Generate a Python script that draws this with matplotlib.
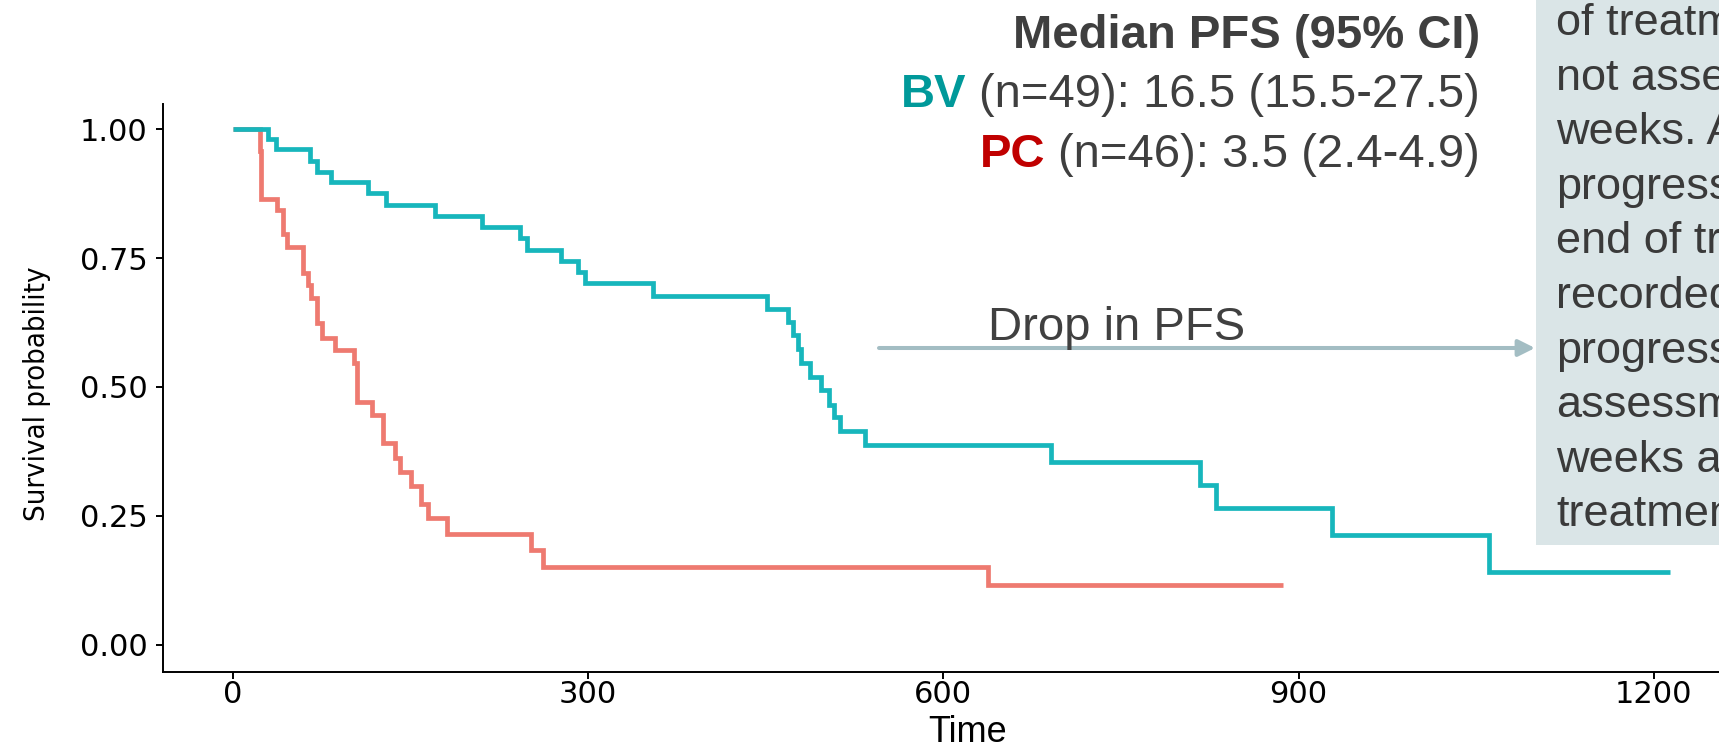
import matplotlib
matplotlib.use("Agg")
import matplotlib.pyplot as plt
from matplotlib import font_manager
from matplotlib.patches import Rectangle, FancyArrowPatch

# Kaplan-Meier steps (days, survival after each event)
bv_time = [0, 30, 36, 65, 71, 83, 114, 129, 171, 210, 242, 248, 277, 291, 297,
           355, 451, 469, 473, 477, 480, 487, 497, 503, 508, 513, 534,
           691, 817, 830, 928, 1061, 1214]
bv_surv = [1.0, 0.982, 0.961, 0.938, 0.917, 0.897, 0.876, 0.853, 0.832, 0.811, 0.789,
           0.766, 0.745, 0.723, 0.701, 0.677, 0.651, 0.627, 0.600, 0.574, 0.546,
           0.520, 0.494, 0.466, 0.442, 0.415, 0.387, 0.355, 0.310, 0.266, 0.213,
           0.141, 0.141]

pc_time = [0, 23, 24, 37, 42, 46, 59, 63, 66, 71, 75, 86, 102, 105, 117, 127,
           137, 141, 150, 159, 165, 181, 252, 262, 638, 887]
pc_surv = [1.0, 0.957, 0.864, 0.844, 0.797, 0.772, 0.721, 0.698, 0.672, 0.624,
           0.595, 0.572, 0.546, 0.470, 0.446, 0.391, 0.362, 0.336, 0.307, 0.272,
           0.245, 0.214, 0.184, 0.151, 0.115, 0.115]

x_ticks = [0, 300, 600, 900, 1200]
y_ticks = [0.0, 0.25, 0.5, 0.75, 1.0]

header = "Median PFS (95% CI)"
groups = ["BV", "PC"]
group_stats = ["(n=49): 16.5 (15.5-27.5)", "(n=46): 3.5 (2.4-4.9)"]
group_colors = ["#00999A", "#C00000"]

note_lines = ["of treatm", "not asse", "weeks. A", "progress", "end of tr",
              "recorded", "progress", "assessm", "weeks a", "treatmen"]

W, H = 1719, 748
fig = plt.figure(figsize=(W / 100, H / 100), dpi=100)


def fx(px):
    return px / W


def fy(py):
    return 1 - py / H


# a condensed face for the y title if one is around
fonts = font_manager.fontManager.ttflist
names = {f.name for f in fonts}
if "Liberation Sans Narrow" in names:
    ylab_font = dict(family="Liberation Sans Narrow", fontsize=24)
elif any(f.name == "DejaVu Sans" and f.stretch == "condensed" for f in fonts):
    ylab_font = dict(family="DejaVu Sans", fontstretch="condensed", fontsize=21)
else:
    ylab_font = dict(family="Liberation Sans", fontsize=21)

# note box on the right, behind everything
fig.add_artist(Rectangle((fx(1536), fy(545)), fx(200), 545 / H,
                         transform=fig.transFigure, facecolor="#DAE5E7",
                         edgecolor="none", zorder=0))

# panel runs off the right edge of the figure
ax = fig.add_axes([fx(163), fy(672), 1609.2 / W, (672 - 103.5) / H])
ax.set_facecolor("none")
ax.step(pc_time, pc_surv, where="post", color="#EE7A70", lw=3.4,
        solid_capstyle="butt", solid_joinstyle="miter")
ax.step(bv_time, bv_surv, where="post", color="#17B6BC", lw=3.4,
        solid_capstyle="butt", solid_joinstyle="miter")

ax.set_xlim(-59.1, 1300)
ax.set_ylim(-0.053, 1.05)
ax.set_xticks(x_ticks)
ax.set_yticks(y_ticks)
ax.set_yticklabels([f"{v:.2f}" for v in y_ticks])
for side in ["top", "right"]:
    ax.spines[side].set_visible(False)
for side in ["left", "bottom"]:
    ax.spines[side].set_linewidth(1.4)
ax.tick_params(axis="both", length=5, width=1.4, labelsize=22, colors="black")
ax.tick_params(axis="x", pad=1)
ax.tick_params(axis="y", pad=6)
for lab in ax.get_xticklabels() + ax.get_yticklabels():
    lab.set_family("DejaVu Sans")

ax.set_xlabel("Time", fontsize=26, family="Liberation Sans")
ax.xaxis.set_label_coords(0.5, -0.075)
ax.set_ylabel("Survival probability", **ylab_font)
ax.yaxis.set_label_coords(-0.0696, 0.49)

for i, line in enumerate(note_lines):
    fig.text(fx(1556), fy(35 + 54.6 * i), line, fontsize=32.5,
             family="Liberation Sans", color="#3A3A3A", va="baseline")

# arrow pointing at the note
fig.add_artist(FancyArrowPatch((fx(879), fy(348)), (fx(1535), fy(348)),
                               transform=fig.transFigure,
                               arrowstyle="-|>,head_length=10,head_width=5",
                               mutation_scale=1, lw=2.9, color="#A3BDC3",
                               shrinkA=0, shrinkB=0))
fig.text(fx(988), fy(340), "Drop in PFS", fontsize=34, family="Liberation Sans",
         color="#404040", va="baseline")

# median PFS legend
fig.text(fx(1480), fy(48), header, fontsize=34, family="Liberation Sans",
         weight="bold", color="#3F3F3F", ha="right", va="baseline")
renderer = fig.canvas.get_renderer()
for i, (g, stat, c) in enumerate(zip(groups, group_stats, group_colors)):
    y = fy(107 + 60 * i)
    t = fig.text(fx(1480), y, stat, fontsize=34, family="Liberation Sans",
                 color="#3F3F3F", ha="right", va="baseline")
    bb = t.get_window_extent(renderer)
    fig.text((bb.x0 - 13) / W, y, g, fontsize=34, family="Liberation Sans",
             weight="bold", color=c, ha="right", va="baseline")

fig.savefig("out.png", dpi=100)
